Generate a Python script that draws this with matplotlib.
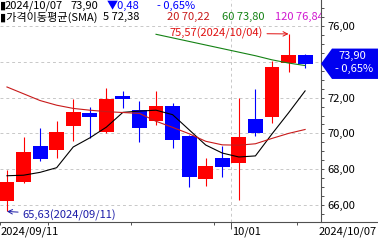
import numpy as np
import matplotlib
matplotlib.use('Agg')
import matplotlib.pyplot as plt
from matplotlib.lines import Line2D
from matplotlib.patches import Polygon
from matplotlib.ticker import FixedLocator, MultipleLocator, FuncFormatter
from matplotlib.transforms import blended_transform_factory
from datetime import datetime

plt.rcParams['font.family'] = ['Noto Sans CJK KR', 'DejaVu Sans']
plt.rcParams['font.size'] = 8

# daily candles
dates = ['2024/09/11', '2024/09/12', '2024/09/13', '2024/09/16', '2024/09/17',
         '2024/09/18', '2024/09/19', '2024/09/20', '2024/09/23', '2024/09/24',
         '2024/09/25', '2024/09/26', '2024/09/27', '2024/09/30', '2024/10/01',
         '2024/10/02', '2024/10/03', '2024/10/04', '2024/10/07']
opens = [66.23, 67.29, 69.29, 69.07, 70.43, 71.16, 70.10, 72.11, 71.31, 70.71,
         71.54, 69.85, 67.43, 68.62, 68.36, 70.83, 70.94, 73.92, 74.38]
closes = [67.29, 68.97, 68.58, 70.10, 71.22, 70.90, 71.93, 71.91, 70.32, 71.54,
          69.63, 67.57, 68.17, 68.10, 69.82, 70.04, 73.74, 74.38, 73.90]
highs = [67.95, 69.78, 70.29, 70.69, 71.91, 71.50, 72.53, 72.40, 71.82, 72.38,
         71.69, 69.90, 68.64, 69.29, 71.97, 72.49, 74.08, 75.57, 74.45]
lows = [65.63, 67.25, 68.47, 68.64, 69.57, 69.73, 70.05, 71.40, 69.50, 70.47,
        69.20, 66.98, 67.07, 67.57, 66.27, 69.85, 70.56, 73.46, 73.65]

# moving averages (60 only visible from 09/24 on)
ma5 = [67.63, 67.66, 67.82, 68.08, 69.24, 69.75, 70.35, 71.18, 71.25, 71.30,
       71.05, 70.20, 69.35, 68.90, 68.68, 68.74, 69.97, 71.15, 72.38]
ma20 = [72.60, 72.22, 71.84, 71.58, 71.40, 71.30, 71.22, 71.17, 71.12, 70.68,
        70.34, 69.98, 69.56, 69.36, 69.34, 69.42, 69.72, 70.00, 70.22]
ma60 = [np.nan] * 9 + [75.55, 75.35, 75.15, 74.95, 74.75, 74.55, 74.35, 74.12,
                       73.94, 73.80]
ma_periods = ['5', '20', '60', '120']
ma_last = [72.38, 70.22, 73.80, 76.84]
ma_colors = ['black', '#c81a1a', '#148214', '#d018d0']

last_close = 73.90
change = -0.48
change_pct = -0.65
hi_idx, lo_idx = 17, 0

UP, DOWN = '#ff0000', '#0000ff'
GRID = '#c8c8c8'
AXC = '#505050'
W, H = 378, 242


def kr(v):
    return f'{v:.2f}'.replace('.', ',')


def fx(px):
    return px / W


def fy(py):
    return 1 - py / H


fig = plt.figure(figsize=(W / 100, H / 100), dpi=100, facecolor='white')
ax = fig.add_axes([0, fy(222), fx(321), 222 / H])
x = np.arange(len(dates))

# candles
for i in x:
    col = UP if closes[i] >= opens[i] else DOWN
    ax.vlines(i, lows[i], highs[i], color=col, lw=0.8, zorder=3)
    ax.bar(i, closes[i] - opens[i], bottom=opens[i], width=0.9, color=col,
           linewidth=0, zorder=3)

ax.plot(x, ma5, color=ma_colors[0], lw=0.8, zorder=4)
ax.plot(x, ma20, color=ma_colors[1], lw=0.8, zorder=4)
ax.plot(x, ma60, color=ma_colors[2], lw=0.8, zorder=4)

ax.set_xlim(-0.42, 18.96)
ax.set_ylim(65.04, 77.47)

# axes / ticks
for s in ['top', 'left', 'bottom']:
    ax.spines[s].set_visible(False)
ax.spines['right'].set_color(AXC)
ax.spines['right'].set_linewidth(0.8)
ax.yaxis.tick_right()
ax.set_yticks(np.arange(66, 77, 2))
ax.yaxis.set_minor_locator(MultipleLocator(0.5))
# the label under the price tag is hidden by it
ax.yaxis.set_major_formatter(
    FuncFormatter(lambda v, p: '' if abs(v - last_close) < 0.9 else kr(v)))
ax.tick_params(axis='y', which='both', length=2.5, width=0.7, color=AXC,
               pad=2, labelsize=8)
ax.grid(axis='y', which='major', color=GRID, ls=(0, (3, 3)), lw=0.7, zorder=0)

dts = [datetime.strptime(d, '%Y/%m/%d') for d in dates]
month_idx = [i for i in range(1, len(dts)) if dts[i].month != dts[i - 1].month]
week_idx = [i for i in range(1, len(dts)) if dts[i].weekday() == 0]
ax.xaxis.set_major_locator(FixedLocator([i - 0.5 for i in month_idx]))
ax.xaxis.set_minor_locator(FixedLocator([i - 0.5 for i in week_idx] + [-0.42]))
ax.tick_params(axis='x', which='major', length=5, width=0.7, color=AXC,
               labelbottom=False)
ax.tick_params(axis='x', which='minor', length=2.5, width=0.7, color=AXC)
for i in month_idx:
    ax.axvline(i - 0.5, color=GRID, ls=(0, (3, 3)), lw=0.7, zorder=0)

fig.add_artist(Line2D([0, 1], [fy(222), fy(222)], transform=fig.transFigure,
                      color=AXC, lw=0.8))

# bottom date labels
bt = blended_transform_factory(ax.transData, fig.transFigure)
fig.text(fx(1), fy(232), dates[0], ha='left', va='center', fontsize=8)
for i in month_idx:
    ax.text(i - 0.38, fy(232), dates[i][5:], transform=bt, ha='left',
            va='center', fontsize=8, clip_on=False)
fig.text(fx(377), fy(232), dates[-1], ha='right', va='center', fontsize=8)

# high / low marks
ax.annotate(f'{kr(highs[hi_idx])}({dates[hi_idx]})', xy=(hi_idx, highs[hi_idx]),
            xytext=(-18.5, 0.5), textcoords='offset points', ha='right',
            va='center', color='#e01010', fontsize=8,
            arrowprops=dict(arrowstyle='->', color='#e01010', lw=0.7,
                            shrinkA=1, shrinkB=0))
ax.annotate(f'{kr(lows[lo_idx])}({dates[lo_idx]})', xy=(lo_idx, lows[lo_idx]),
            xytext=(11, -2.6), textcoords='offset points', ha='left',
            va='center', color='#1c1ca8', fontsize=8,
            arrowprops=dict(arrowstyle='->', color='#1c1ca8', lw=0.7,
                            shrinkA=1, shrinkB=0))

# current price tag on the right axis
pt = blended_transform_factory(ax.transAxes, ax.transData)
r = 11 / 321
tag = Polygon([(1.0, last_close), (1 + r, last_close + 0.85), (1.2, last_close + 0.85),
               (1.2, last_close - 0.85), (1 + r, last_close - 0.85)],
              closed=True, transform=pt, facecolor='#0000f0', edgecolor='none',
              clip_on=False, zorder=10)
ax.add_patch(tag)
ax.text(1 + 31 / 321, last_close + 0.44, kr(last_close), transform=pt,
        ha='center', va='center', color='white', fontsize=8, clip_on=False,
        zorder=11)
ax.text(1 + 33 / 321, last_close - 0.30, f'- {kr(abs(change_pct))}%', transform=pt,
        ha='center', va='center', color='white', fontsize=8, clip_on=False,
        zorder=11)

# header lines
def head(px, py, s, color='black'):
    t = fig.text(fx(px), fy(py), s, ha='left', va='center', color=color,
                 fontsize=8)
    t.set_clip_on(True)
    t.set_clip_box(ax.bbox)
    return t


head(0, 6, '▮')
head(5, 6, dates[-1])
head(70, 6, kr(last_close))
head(107, 6, '▼' + kr(abs(change)), DOWN)
head(157, 6, '- ' + kr(abs(change_pct)) + '%', DOWN)

head(0, 17, '▮가격이동평균(SMA)')
head(103, 17, f'{ma_periods[0]} {kr(ma_last[0])}', ma_colors[0])
head(167, 17, f'{ma_periods[1]} {kr(ma_last[1])}', ma_colors[1])
head(222, 17, f'{ma_periods[2]} {kr(ma_last[2])}', ma_colors[2])
head(275, 17, f'{ma_periods[3]} {kr(ma_last[3])}', ma_colors[3])

fig.savefig('out.png', dpi=100, facecolor='white')
